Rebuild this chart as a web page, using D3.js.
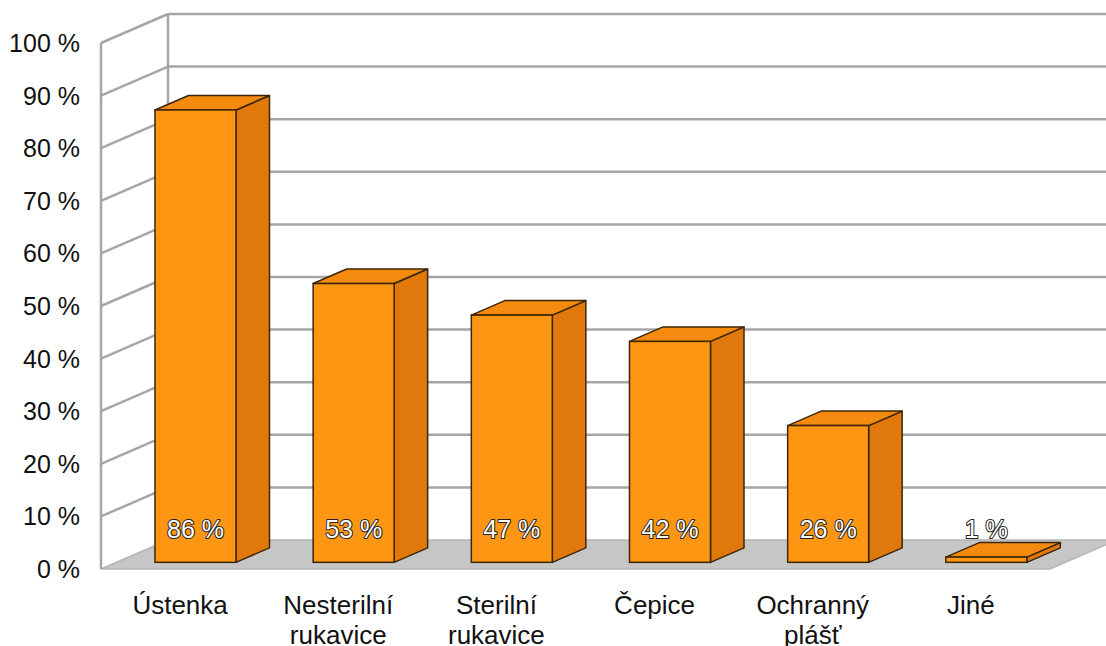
<!DOCTYPE html>
<html>
<head>
<meta charset="utf-8">
<script src="https://cdn.jsdelivr.net/npm/d3@7"></script>
<style>
  body { margin: 0; background: white; }
  text { font-family: "Liberation Sans", Arial, sans-serif; }
</style>
</head>
<body>
<div id="chart"></div>
<script>
// Data
var categories = ["Ústenka", "Nesterilní\nrukavice", "Sterilní\nrukavice", "Čepice", "Ochranný\nplášť", "Jiné"];
var values = [86, 53, 47, 42, 26, 1];
var yTicks = [0, 10, 20, 30, 40, 50, 60, 70, 80, 90, 100];

var width = 1106, height = 646;

// 3D projection settings
var depthX = 67, depthY = 29;      // offset of back wall
var barFront = 0.23, barDepth = 0.5; // bar position in depth

var svg = d3.select('#chart')
  .append('svg')
  .attr('width', width)
  .attr('height', height);

var x_scale = d3.scaleBand()
  .domain(categories)
  .range([101, 1050]);

var y_scale = d3.scaleLinear()
  .domain([0, 100])
  .range([569, 43]);

function px(x, d) { return x + d * depthX; }
function py(v, d) { return y_scale(v) - d * depthY; }

var gridColor = "#a6a6a6";

// Floor
svg.append("polygon")
  .attr("points", [[px(101, 0), py(0, 0)], [px(1050, 0), py(0, 0)], [px(1050, 1), py(0, 1)], [px(101, 1), py(0, 1)]].join(" "))
  .style("fill", "#c6c6c6")
  .style("stroke", "#b4b4b4")
  .style("stroke-width", 1.5);

// Back wall gridlines
svg.selectAll(".backgrid")
  .data(yTicks.slice(1))
  .enter().append("line")
  .attr("x1", px(101, 1)).attr("x2", width)
  .attr("y1", function (d) { return py(d, 1); })
  .attr("y2", function (d) { return py(d, 1); })
  .style("stroke", gridColor)
  .style("stroke-width", 2.5);

// Side wall gridlines
svg.selectAll(".sidegrid")
  .data(yTicks.slice(1))
  .enter().append("line")
  .attr("x1", px(101, 0)).attr("x2", px(101, 1))
  .attr("y1", function (d) { return py(d, 0); })
  .attr("y2", function (d) { return py(d, 1); })
  .style("stroke", gridColor)
  .style("stroke-width", 2.5);

// Wall verticals
svg.append("line")
  .attr("x1", px(101, 0)).attr("x2", px(101, 0))
  .attr("y1", py(0, 0)).attr("y2", py(100, 0))
  .style("stroke", gridColor).style("stroke-width", 2.5);
svg.append("line")
  .attr("x1", px(101, 1)).attr("x2", px(101, 1))
  .attr("y1", py(0, 1)).attr("y2", py(100, 1))
  .style("stroke", gridColor).style("stroke-width", 2.5);

// Bars
var barW = 81;
var bars = svg.selectAll(".bar")
  .data(values)
  .enter().append("g")
  .attr("class", "bar");

function corners(d, i) {
  var cx = x_scale(categories[i]) + x_scale.bandwidth() / 2;
  var x0 = px(cx - barW / 2, barFront), x1 = x0 + barW;
  var yb = py(0, barFront), yt = py(d, barFront);
  var ox = barDepth * depthX, oy = barDepth * depthY;
  return { x0: x0, x1: x1, yb: yb, yt: yt, ox: ox, oy: oy };
}

var edge = "#3b2608";

bars.append("polygon")
  .attr("points", function (d, i) {
    var c = corners(d, i);
    return [[c.x1, c.yt], [c.x1 + c.ox, c.yt - c.oy], [c.x1 + c.ox, c.yb - c.oy], [c.x1, c.yb]].join(" ");
  })
  .style("fill", "#e0780c")
  .style("stroke", edge).style("stroke-width", 1.5).style("stroke-linejoin", "round");

bars.append("polygon")
  .attr("points", function (d, i) {
    var c = corners(d, i);
    return [[c.x0, c.yt], [c.x1, c.yt], [c.x1 + c.ox, c.yt - c.oy], [c.x0 + c.ox, c.yt - c.oy]].join(" ");
  })
  .style("fill", "#f48a0e")
  .style("stroke", edge).style("stroke-width", 1.5).style("stroke-linejoin", "round");

bars.append("rect")
  .attr("x", function (d, i) { return corners(d, i).x0; })
  .attr("y", function (d, i) { return corners(d, i).yt; })
  .attr("width", barW)
  .attr("height", function (d, i) { var c = corners(d, i); return c.yb - c.yt; })
  .style("fill", "#fd9612")
  .style("stroke", edge).style("stroke-width", 1.5);

// Value labels (white text with dark outline)
bars.append("text")
  .attr("x", function (d, i) { var c = corners(d, i); return (c.x0 + c.x1) / 2; })
  .attr("y", 538)
  .style("text-anchor", "middle")
  .style("font-size", "25px")
  .style("fill", "white")
  .style("stroke", "#222")
  .style("stroke-width", 2)
  .style("paint-order", "stroke")
  .style("stroke-linejoin", "round")
  .text(function (d) { return d + " %"; });

// Y tick labels
svg.selectAll(".ytick")
  .data(yTicks)
  .enter().append("text")
  .attr("x", 80)
  .attr("y", function (d) { return py(d, 0); })
  .attr("dy", "0.36em")
  .style("text-anchor", "end")
  .style("font-size", "25px")
  .style("fill", "#111")
  .text(function (d) { return d + " %"; });

// Category labels
var cat = svg.selectAll(".cat")
  .data(categories)
  .enter().append("text")
  .attr("x", function (d) { return x_scale(d) + x_scale.bandwidth() / 2; })
  .attr("y", 614)
  .style("text-anchor", "middle")
  .style("font-size", "26px")
  .style("fill", "#111");

cat.selectAll("tspan")
  .data(function (d) { return d.split("\n"); })
  .enter().append("tspan")
  .attr("x", function () { return d3.select(this.parentNode).attr("x"); })
  .attr("dy", function (d, i) { return i === 0 ? 0 : 30; })
  .text(function (d) { return d; });
</script>
</body>
</html>
